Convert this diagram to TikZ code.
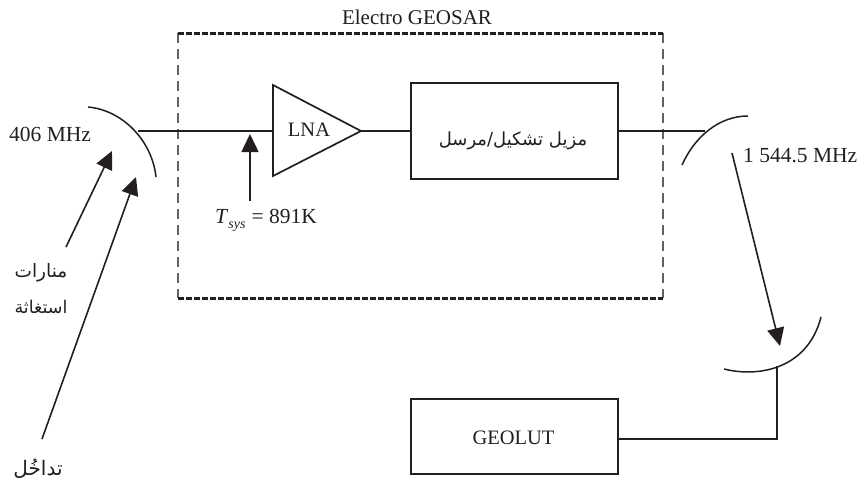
\documentclass[tikz,border=0pt]{standalone}
\usepackage{fontspec}
\setmainfont{Liberation Serif}
\newfontfamily\arabicfont[Script=Arabic]{DejaVu Sans}
\TeXXeTstate=1
\usetikzlibrary{arrows.meta,shapes.geometric}
\definecolor{ink}{HTML}{231F20}
\tikzset{
  wire/.style={draw=ink,line width=1.7pt},
  dish/.style={draw=ink,line width=1.5pt},
  blockbox/.style={draw=ink,line width=1.7pt,fill=white,inner sep=0pt},
  lab/.style={text=ink,inner sep=0pt,font=\fontsize{21.5}{24}\selectfont},
  arlab/.style={text=ink,inner sep=0pt,font=\arabicfont\fontsize{17.5}{20}\selectfont},
  sig/.style={draw=ink,line width=1.6pt,-{Triangle[length=18pt,width=17pt]}},
  heavydash/.style={draw=ink,line width=3pt,dash pattern=on 5.5pt off 2.5pt},
  lightdash/.style={draw=ink!70,line width=1.1pt,dash pattern=on 10pt off 6pt},
}
\begin{document}
\begin{tikzpicture}[x=1pt,y=-1pt]
\useasboundingbox (0,0) rectangle (859,483);
% named points
\coordinate (d1a) at (88,107);
\coordinate (d1f) at (138,131);
\coordinate (d1b) at (156,177);
\coordinate (d2a) at (682,165);
\coordinate (d2f) at (705,131);
\coordinate (d2b) at (748,116);
\coordinate (d3a) at (724,369);
\coordinate (d3f) at (777,366);
\coordinate (d3b) at (821,317);
\coordinate (bl) at (178,33);
\coordinate (br) at (663,33);
\coordinate (bbl) at (178,298);
\coordinate (bbr) at (663,298);
\coordinate (a1s) at (66,247);
\coordinate (a1e) at (112,151);
\coordinate (a2s) at (42,439);
\coordinate (a2e) at (136,177);
\coordinate (a3s) at (250,201);
\coordinate (a3e) at (250,134);
\coordinate (a4s) at (732,153);
\coordinate (a4e) at (780,346);
\coordinate (corner) at (777,439);
\coordinate (la) at (273,85);
\coordinate (lb) at (273,176);
\coordinate (lc) at (361,131);
\coordinate (lin) at (273,131);
% dashed enclosure
\draw[lightdash] (bl) -- (bbl);
\draw[lightdash] (br) -- (bbr);
\draw[heavydash] (bl) -- (br);
\draw[heavydash] (bbl) -- (bbr);
% dishes
\draw[dish] (d1a) .. controls (122,110) and (152,140) .. (d1b);
\draw[dish] (d2a) .. controls (694,138) and (718,116) .. (d2b);
\draw[dish] (d3a) .. controls (760,378) and (808,368) .. (d3b);
% blocks
\node[blockbox,minimum width=207pt,minimum height=96pt] (mod) at (514.5,131) {};
\node[blockbox,minimum width=207pt,minimum height=75pt] (geolut) at (514.5,436.5) {};
\draw[draw=ink,line width=1.7pt,line join=miter] (la) -- (lc) -- (lb) -- cycle;
\node[lab,font=\fontsize{20.5}{24}\selectfont] (lna) at (309,130) {LNA};
\node[lab,font=\fontsize{20.5}{24}\selectfont] (geot) at (513.5,438) {GEOLUT};
% connectors
\draw[wire] (d1f) -- (lin);
\draw[wire] (lc) -- (mod.west);
\draw[wire] (mod.east) -- (d2f);
\draw[wire] (geolut.east |- corner) -- (corner) -- (d3f);
% arrows
\draw[sig] (a1s) -- (a1e);
\draw[sig] (a2s) -- (a2e);
\draw[sig] (a3s) -- (a3e);
\draw[sig] (a4s) -- (a4e);
% labels
\node[lab,font=\fontsize{21}{24}\selectfont] (title) at (417,17) {Electro GEOSAR};
\node[lab,anchor=west] (f1) at (9,134) {406 MHz};
\node[lab,anchor=base west] (f2) at (743,162) {1 544.5 MHz};
\node[lab,anchor=base west] (tsys) at (215,223) {\textit{T}\raisebox{-5pt}{\fontsize{14}{16}\selectfont\textit{sys}}\kern6pt= 891K};
\node[arlab,font=\arabicfont\fontsize{18}{22}\selectfont] (modt) at (513,141) {\beginR مزيل تشكيل/مرسل\endR};
\node[arlab,font=\arabicfont\fontsize{18.5}{20}\selectfont] (b1) at (41,273) {\beginR منارات\endR};
\node[arlab] (b2) at (41,307) {\beginR استغاثة\endR};
\node[arlab,font=\arabicfont\fontsize{20}{22}\selectfont] (intf) at (38,469) {\beginR تداخُل\endR};
\end{tikzpicture}
\end{document}
